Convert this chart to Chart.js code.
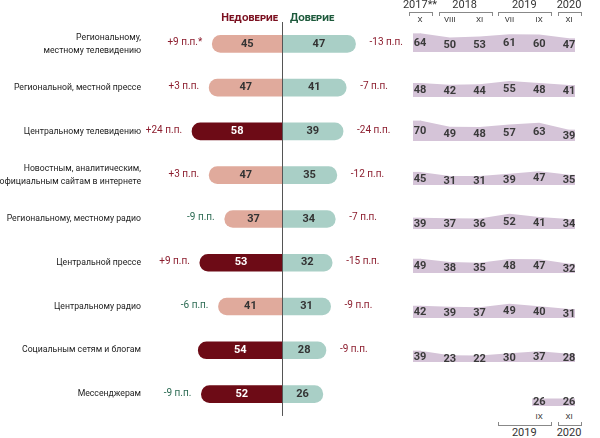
<!DOCTYPE html>
<html>
<head>
<meta charset="utf-8">
<script src="https://cdn.jsdelivr.net/npm/chart.js@4/dist/chart.umd.min.js"></script>
<style>
  body { margin: 0; background: #fff; font-family: Roboto, sans-serif; -webkit-font-smoothing: antialiased; }
  #wrap { position: relative; width: 600px; height: 438px; overflow: hidden; }
  #wrap canvas { position: absolute; }
  .hd { position: absolute; top: 10px; font-weight: bold; font-variant: small-caps; font-size: 11px; line-height: 16px; }
  .txt { position: absolute; color: #333; white-space: nowrap; transform: translateX(-50%); }
  .yr { font-size: 11px; line-height: 12px; }
  .mo { font-size: 8px; line-height: 10px; }
  .br { position: absolute; border: 1px solid #888; height: 3px; }
  .br.up { border-bottom: 1px solid #888; border-top: none; }
  .br.down { border-top: 1px solid #888; border-bottom: none; }
</style>
</head>
<body>
<div id="wrap">
  <canvas id="main" width="410" height="438" style="left:0;top:0"></canvas>
  <div class="hd" style="right:322px;color:#7b1020">Недоверие</div>
  <div class="hd" style="left:290px;color:#1e5a3c">Доверие</div>
</div>
<script>
// данные
const categories = [
  ['Региональному,', 'местному телевидению'],
  'Региональной, местной прессе',
  'Центральному телевидению',
  ['Новостным, аналитическим,', 'официальным сайтам в интернете'],
  'Региональному, местному радио',
  'Центральной прессе',
  'Центральному радио',
  'Социальным сетям и блогам',
  'Мессенджерам'
];
const distrust = [45, 47, 58, 47, 37, 53, 41, 54, 52];
const trust = [47, 41, 39, 35, 34, 32, 31, 28, 26];
const distrustChange = [9, 3, 24, 3, -9, 9, -6, null, -9];
const trustChange = [-13, -7, -24, -12, -7, -15, -9, -9, null];
const footnoteRow = 0;

const periods = ['X', 'VIII', 'XI', 'VII', 'IX', 'XI'];
const yearGroups = [
  { label: '2017**', from: 0, to: 0 },
  { label: '2018', from: 1, to: 2 },
  { label: '2019', from: 3, to: 4 },
  { label: '2020', from: 5, to: 5 }
];
const footerGroups = [
  { label: '2019', from: 3, to: 4, month: 4 },
  { label: '2020', from: 5, to: 5, month: 5 }
];
const trend = [
  [64, 50, 53, 61, 60, 47],
  [48, 42, 44, 55, 48, 41],
  [70, 49, 48, 57, 63, 39],
  [45, 31, 31, 39, 47, 35],
  [39, 37, 36, 52, 41, 34],
  [49, 38, 35, 48, 47, 32],
  [42, 39, 37, 49, 40, 31],
  [39, 23, 22, 30, 37, 28],
  [null, null, null, null, 26, 26]
];

// цвета
const LIGHT = '#e0aa9c', DARK = '#6d0b16', TEAL = '#a9cfc6', BAND = '#d5c4d8';
const MAROON = '#8c1d2e', GREEN = '#2b6a52';
const FONT = 'Roboto';

function fmt(v) { return (v > 0 ? '+' : '') + v + ' п.п.'; }

const barLabels = {
  id: 'barLabels',
  afterDatasetsDraw(chart) {
    const ctx = chart.ctx;
    const zero = Math.round(chart.scales.x.getPixelForValue(0)) + 0.5;
    ctx.save();
    ctx.strokeStyle = '#555';
    ctx.lineWidth = 1;
    ctx.beginPath();
    ctx.moveTo(zero, chart.chartArea.top);
    ctx.lineTo(zero, chart.chartArea.bottom);
    ctx.stroke();
    ctx.textBaseline = 'middle';
    chart.getDatasetMeta(0).data.forEach(function (bar, i) {
      ctx.font = 'bold 11px "' + FONT + '"';
      ctx.textAlign = 'center';
      ctx.fillStyle = distrust[i] > 50 ? '#fff' : '#333';
      ctx.fillText(distrust[i], (bar.x + bar.base) / 2, bar.y);
      const ch = distrustChange[i];
      if (ch !== null) {
        ctx.font = '10px "' + FONT + '"';
        ctx.textAlign = 'right';
        ctx.fillStyle = ch > 0 ? MAROON : GREEN;
        ctx.fillText(fmt(ch) + (i === footnoteRow ? '*' : ''), bar.x - 10, bar.y - 1);
      }
    });
    chart.getDatasetMeta(1).data.forEach(function (bar, i) {
      ctx.font = 'bold 11px "' + FONT + '"';
      ctx.textAlign = 'center';
      ctx.fillStyle = '#333';
      ctx.fillText(trust[i], (bar.x + bar.base) / 2, bar.y);
      const ch = trustChange[i];
      if (ch !== null) {
        ctx.font = '10px "' + FONT + '"';
        ctx.textAlign = 'left';
        ctx.fillStyle = ch < 0 ? MAROON : GREEN;
        ctx.fillText(fmt(ch), bar.x + 14, bar.y - 1);
      }
    });
    ctx.restore();
  }
};

new Chart(document.getElementById('main'), {
  type: 'bar',
  data: {
    labels: categories,
    datasets: [
      {
        data: distrust.map(v => -v),
        backgroundColor: distrust.map(v => v > 50 ? DARK : LIGHT),
        barThickness: 17, borderRadius: 9, borderSkipped: 'start'
      },
      {
        data: trust,
        backgroundColor: TEAL,
        barThickness: 17, borderRadius: 9, borderSkipped: 'start'
      }
    ]
  },
  options: {
    indexAxis: 'y',
    responsive: false,
    animation: false,
    layout: { padding: { top: 22, bottom: 14, left: 0, right: 0 } },
    plugins: { legend: { display: false }, tooltip: { enabled: false } },
    scales: {
      x: { stacked: true, min: -85, max: 82, display: false },
      y: {
        stacked: true,
        grid: { display: false, drawTicks: false },
        border: { display: false },
        ticks: { color: '#222', font: { family: FONT, size: 8.7, lineHeight: 1.5 }, padding: 9 },
        afterFit(scale) { scale.width = 150; }
      }
    }
  },
  plugins: [barLabels]
});

// тренды справа
const bandEdges = {
  id: 'bandEdges',
  beforeDatasetsDraw(chart) {
    const row = chart.data.datasets[0].data;
    const pts = chart.getDatasetMeta(0).data;
    const y0 = chart.scales.y.getPixelForValue(0);
    const first = row.findIndex(v => v !== null);
    let last = row.length - 1;
    while (row[last] === null) last--;
    const ctx = chart.ctx;
    ctx.save();
    ctx.fillStyle = BAND;
    ctx.fillRect(pts[first].x - 7, pts[first].y, 7.5, y0 - pts[first].y);
    ctx.fillRect(pts[last].x - 0.5, pts[last].y, 6.5, y0 - pts[last].y);
    ctx.restore();
  },
  afterDatasetsDraw(chart) {
    const row = chart.data.datasets[0].data;
    const y0 = chart.scales.y.getPixelForValue(0);
    const ctx = chart.ctx;
    ctx.save();
    ctx.font = 'bold 11px "' + FONT + '"';
    ctx.fillStyle = '#3a3a3a';
    ctx.textAlign = 'center';
    ctx.textBaseline = 'middle';
    chart.getDatasetMeta(0).data.forEach(function (p, i) {
      if (row[i] === null) return;
      ctx.fillText(row[i], p.x, (p.y + y0) / 2 + 0.5);
    });
    ctx.restore();
  }
};

const wrap = document.getElementById('wrap');
const miniLeft = 413, miniW = 162, miniH = 30;
let xScale = null;
trend.forEach(function (row, i) {
  const c = document.createElement('canvas');
  c.width = miniW; c.height = miniH;
  c.style.left = miniLeft + 'px';
  c.style.top = Math.round(52.3 + i * 44.2 - miniH) + 'px';
  wrap.appendChild(c);
  const ch = new Chart(c, {
    type: 'line',
    data: {
      labels: periods,
      datasets: [{ data: row, fill: 'origin', backgroundColor: BAND, borderWidth: 0, pointRadius: 0, tension: 0 }]
    },
    options: {
      responsive: false,
      animation: false,
      layout: { padding: { left: 7, right: 6, top: 0, bottom: 0 } },
      plugins: { legend: { display: false }, tooltip: { enabled: false } },
      scales: { x: { display: false }, y: { display: false, min: 0, max: 103 } }
    },
    plugins: [bandEdges]
  });
  if (!xScale) xScale = ch.scales.x;
});

function addText(cls, text, x, y) {
  const d = document.createElement('div');
  d.className = 'txt ' + cls;
  d.textContent = text;
  d.style.left = x + 'px';
  d.style.top = y + 'px';
  wrap.appendChild(d);
}
function addBracket(x1, x2, y, dir) {
  const d = document.createElement('div');
  d.className = 'br ' + dir;
  d.style.left = x1 + 'px';
  d.style.top = y + 'px';
  d.style.width = (x2 - x1) + 'px';
  wrap.appendChild(d);
}
const px = i => miniLeft + xScale.getPixelForValue(i);

yearGroups.forEach(function (g) {
  const a = px(g.from) - 11, b = px(g.to) + 11;
  addText('yr', g.label, (a + b) / 2, -1);
  addBracket(a, b, 12, 'down');
});
periods.forEach(function (p, i) { addText('mo', p, px(i), 15); });

footerGroups.forEach(function (g) {
  const a = px(g.from) - 11, b = px(g.to) + 11;
  addText('mo', periods[g.month], px(g.month), 412);
  addBracket(a, b, 422, 'up');
  addText('yr', g.label, (a + b) / 2, 427);
});
</script>
</body>
</html>
